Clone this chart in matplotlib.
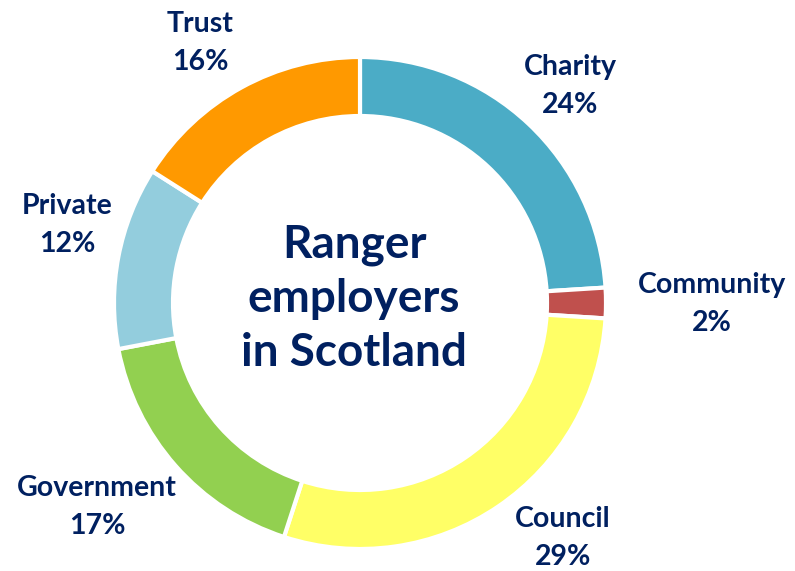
import matplotlib
matplotlib.use('Agg')
import matplotlib.pyplot as plt

# employer shares, clockwise from 12 o'clock
categories = ['Charity', 'Community', 'Council', 'Government', 'Private', 'Trust']
shares = [24, 2, 29, 17, 12, 16]
colours = ['#4BACC6', '#C0504D', '#FFFF66', '#92D050', '#93CDDD', '#FF9900']
label_pos = [(570, 485), (712, 267), (563, 33), (97, 64), (67, 346), (200, 528)]

navy = '#002060'
plt.rcParams['font.family'] = ['Lato', 'DejaVu Sans']

fig = plt.figure(figsize=(7.95, 5.71), dpi=100)
ax = fig.add_axes([0, 0, 1, 1])

ax.pie(shares, colors=colours, startangle=90, counterclock=False,
       center=(360, 268), radius=246, frame=True,
       wedgeprops=dict(width=59, edgecolor='white', linewidth=3))
ax.set_xlim(0, 795)
ax.set_ylim(0, 571)
ax.set_aspect('equal')
ax.axis('off')

for name, val, (x, y) in zip(categories, shares, label_pos):
    ax.text(x, y, '%s\n%d%%' % (name, val), ha='center', va='center',
            fontsize=20.5, fontweight='bold', color=navy, linespacing=1.6)

ax.text(354, 272, 'Ranger\nemployers\nin Scotland', ha='center', va='center',
        fontsize=33, fontweight='bold', color=navy, linespacing=1.36)

fig.savefig('out.png', dpi=100)
